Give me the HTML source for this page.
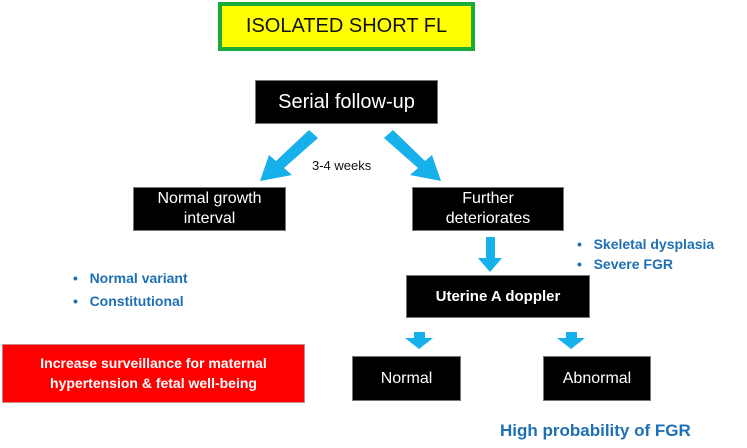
<!DOCTYPE html>
<html><head><style>
body{margin:0;width:747px;height:448px;background:#fff;position:relative;overflow:hidden;font-family:"Liberation Sans",sans-serif}
.b{position:absolute;background:#000;color:#fff;display:flex;align-items:center;justify-content:center;text-align:center;box-sizing:border-box;border:1px solid #777}
.t{position:absolute;white-space:nowrap}
.blue{color:#1f6fb5;font-weight:bold;font-size:14px}
</style></head><body>
<div class="b" style="left:218px;top:2px;width:257px;height:49px;background:#ffff00;border:4px solid #1aaa3a;color:#111;font-size:20px">ISOLATED SHORT FL</div>
<div class="b" style="left:255px;top:80px;width:183px;height:44px;font-size:20px">Serial follow-up</div>
<svg style="position:absolute;left:0;top:0" width="747" height="448">
<g fill="#16b0ea">
<polygon points="309,130 318,138 284,168 292,175 260,181 269,155 276,161"/>
<polygon points="393,130 384,138 418,168 410,175 441,181 432,155 425,161"/>
<polygon points="486,237 495,237 495,258 502,258 490,272 478,258 486,258"/>
<polygon points="414,332 425,332 425,338 433,338 419,349 405,338 414,338"/>
<polygon points="566,332 577,332 577,338 585,338 571,349 557,338 566,338"/>
</g></svg>
<div class="t" style="left:312px;top:158px;font-size:13px;color:#111">3-4 weeks</div>
<div class="b" style="left:133px;top:187px;width:153px;height:44px;font-size:16px;line-height:1.25">Normal growth<br>interval</div>
<div class="b" style="left:412px;top:187px;width:152px;height:44px;font-size:16px;line-height:1.25">Further<br>deteriorates</div>
<div class="t blue" style="left:577px;top:234px;line-height:20px">•&nbsp;&nbsp; Skeletal dysplasia<br>•&nbsp;&nbsp; Severe FGR</div>
<div class="b" style="left:406px;top:275px;width:184px;height:43px;font-size:15px;font-weight:bold">Uterine A doppler</div>
<div class="t blue" style="left:73px;top:267px;line-height:23px">•&nbsp;&nbsp; Normal variant<br>•&nbsp;&nbsp; Constitutional</div>
<div class="b" style="left:2px;top:344px;width:303px;height:59px;background:#f00;border:1px solid #c88;font-size:14px;font-weight:bold;line-height:1.4">Increase surveillance for maternal<br>hypertension &amp; fetal well-being</div>
<div class="b" style="left:352px;top:356px;width:109px;height:45px;font-size:16px">Normal</div>
<div class="b" style="left:543px;top:356px;width:108px;height:45px;font-size:16px">Abnormal</div>
<div class="t" style="left:500px;top:421px;font-size:17px;font-weight:bold;color:#1f6fb5">High probability of FGR</div>
</body></html>
